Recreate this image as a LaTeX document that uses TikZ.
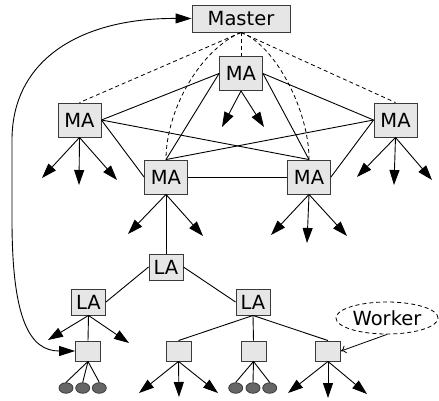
\documentclass[tikz,border=0pt]{standalone}
\usepackage{fontspec}
\setmainfont{DejaVu Sans}
\usetikzlibrary{arrows.meta,shapes.geometric}
\definecolor{boxfill}{HTML}{E6E6E6}
\definecolor{boxline}{HTML}{3A3A3A}
\definecolor{ballfill}{HTML}{666666}
\tikzset{
  box/.style={draw=boxline, fill=boxfill, line width=0.9pt, inner sep=0pt,
    font=\fontsize{19.5}{23}\selectfont},
  mabox/.style={box, minimum width=43pt, minimum height=34pt},
  labox/.style={box, minimum width=34pt, minimum height=26pt},
  masterbox/.style={box, minimum width=98pt, minimum height=27pt},
  wbox/.style={box, minimum width=25pt, minimum height=20pt},
  ball/.style={ellipse, draw=boxline, fill=ballfill, line width=0.8pt, inner sep=0pt,
    minimum width=14pt, minimum height=10.5pt},
  edge/.style={line width=0.9pt},
  dsh/.style={line width=0.8pt, dash pattern=on 4pt off 3pt},
  outarr/.style={line width=0.9pt, -{Triangle[length=15pt,width=10pt]}},
  bigarr/.style={line width=0.9pt, {Triangle[length=16pt,width=10pt]}-{Triangle[length=16pt,width=10pt]}},
}
\begin{document}
\begin{tikzpicture}[x=1pt,y=-1pt]
\useasboundingbox (0,0) rectangle (439,400);
% nodes
\node[masterbox] (M) at (241,18.5) {Master};
\node[mabox] (MAt) at (241,73.5) {MA};
\node[mabox] (MAl) at (79.5,120) {MA};
\node[mabox] (MAr) at (395.5,120) {MA};
\node[mabox] (MAll) at (166,177) {MA};
\node[mabox] (MAlr) at (309,177) {MA};
\node[labox] (LAt) at (166,267) {LA};
\node[labox] (LAl) at (88.5,302) {LA};
\node[labox] (LAr) at (253,302) {LA};
\node[wbox] (W1) at (88,351) {};
\node[wbox] (W2) at (178.5,351) {};
\node[wbox] (W3) at (253.5,351) {};
\node[wbox] (W4) at (328,351) {};
\node[ellipse, draw, dsh, minimum width=102pt, minimum height=32pt, inner sep=0pt,
  font=\fontsize{19.5}{23}\selectfont] (WK) at (387,318) {Worker};
% balls
\node[ball] (b1) at (66,388) {};
\node[ball] (b2) at (82.7,388) {};
\node[ball] (b3) at (99.3,388) {};
\node[ball] (b4) at (235.7,388) {};
\node[ball] (b5) at (253,388) {};
\node[ball] (b6) at (269.7,388) {};
% arrow tip coordinates
\coordinate (t1) at (222,127); \coordinate (t2) at (264,127);
\coordinate (t3) at (42,178); \coordinate (t4) at (79,185); \coordinate (t5) at (117,180);
\coordinate (t6) at (357,177); \coordinate (t7) at (394,185); \coordinate (t8) at (432,180);
\coordinate (t9) at (128,234); \coordinate (t10) at (203,236);
\coordinate (t11) at (271,235); \coordinate (t12) at (307,243); \coordinate (t13) at (347,236);
\coordinate (t14) at (48,340); \coordinate (t15) at (129,343);
\coordinate (t16) at (139,393); \coordinate (t17) at (179,397); \coordinate (t18) at (218,393);
\coordinate (t19) at (288,393); \coordinate (t20) at (328,398); \coordinate (t21) at (367,394);
% MA mesh
\draw[edge] (MAl.east) -- (MAt.west);
\draw[edge] (MAl.east) -- (MAlr.north);
\draw[edge] (MAl.east) -- (MAll.west);
\draw[edge] (MAll.north) -- (MAt.west);
\draw[edge] (MAll.north) -- (MAr.west);
\draw[edge] (MAt.east) -- (MAlr.north);
\draw[edge] (MAt.east) -- (MAr.west);
\draw[edge] (MAll.east) -- (MAlr.west);
\draw[edge] (MAlr.east) -- (MAr.west);
% dashed from master
\draw[dsh] (M.south) -- (MAl.north);
\draw[dsh] (M.south) -- (MAt.north);
\draw[dsh] (M.south) -- (MAr.north);
\draw[dsh] (M.south) .. controls (200,50) and (166,110) .. (MAll.north);
\draw[dsh] (M.south) .. controls (275,45) and (309,110) .. (MAlr.north);
% LA tree
\draw[edge] (MAll.south) -- (LAt.north);
\draw[edge] (LAt.west) -- (LAl.east);
\draw[edge] (LAt.east) -- (LAr.west);
\draw[edge] (LAl.south) -- (W1.north);
\draw[edge] (LAr.south) -- (W2.north);
\draw[edge] (LAr.south) -- (W3.north);
\draw[edge] (LAr.south) -- (W4.north);
% balls
\foreach \bb in {b1,b2,b3} \draw[edge] (W1.south) -- (\bb.north);
\foreach \bb in {b4,b5,b6} \draw[edge] (W3.south) -- (\bb.north);
% outgoing arrows
\foreach \tp in {t1,t2} \draw[outarr] (MAt.south) -- (\tp);
\foreach \tp in {t3,t4,t5} \draw[outarr] (MAl.south) -- (\tp);
\foreach \tp in {t6,t7,t8} \draw[outarr] (MAr.south) -- (\tp);
\foreach \tp in {t9,t10} \draw[outarr] (MAll.south) -- (\tp);
\foreach \tp in {t11,t12,t13} \draw[outarr] (MAlr.south) -- (\tp);
\foreach \tp in {t14,t15} \draw[outarr] (LAl.south) -- (\tp);
\foreach \tp in {t16,t17,t18} \draw[outarr] (W2.south) -- (\tp);
\foreach \tp in {t19,t20,t21} \draw[outarr] (W4.south) -- (\tp);
% worker label arrow
\draw[line width=0.8pt, -{To[length=5pt,width=8pt]}] (WK.south) -- (W4.east);
% big arrow
\draw[bigarr] (W1.west) .. controls (30,351) and (12,320) .. (12,220) -- (12,140)
  .. controls (12,60) and (80,18) .. (M.west);
\end{tikzpicture}
\end{document}
